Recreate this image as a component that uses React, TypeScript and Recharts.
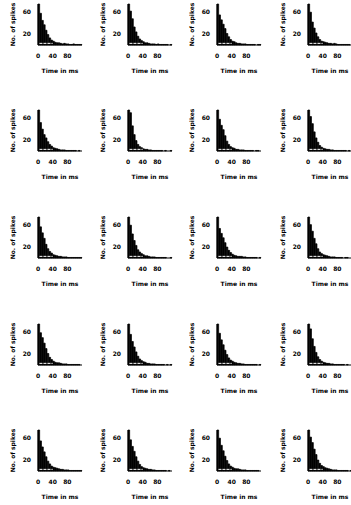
import { BarChart, Bar, XAxis, YAxis, ReferenceLine } from 'recharts'

// bin centres (ms), 5 ms bins
const BINS = [2.5, 7.5, 12.5, 17.5, 22.5, 27.5, 32.5, 37.5, 42.5, 47.5, 52.5, 57.5,
  62.5, 67.5, 72.5, 77.5, 82.5, 87.5, 92.5, 97.5, 102.5, 107.5, 112.5, 117.5]

const X_TICKS = [0, 40, 80]
const Y_TICKS = [0, 20, 60]
const X_LABEL = 'Time in ms'
const Y_LABEL = 'No. of spikes'

// counts per panel, row by row
const P1 = [75, 58, 45, 37, 27, 19, 13, 9, 7, 5, 4, 4, 3, 2, 3, 2, 2, 1, 1, 2, 1, 1, 1, 1]
const P2 = [75, 62, 48, 33, 24, 16, 11, 8, 6, 4, 4, 3, 2, 2, 2, 1, 2, 1, 1, 1, 1, 1, 0, 1]
const P3 = [75, 55, 46, 38, 30, 21, 15, 10, 7, 6, 4, 3, 3, 2, 2, 2, 1, 1, 1, 1, 1, 0, 1, 1]
const P4 = [75, 60, 42, 31, 22, 15, 10, 7, 6, 5, 4, 3, 3, 2, 3, 2, 1, 1, 1, 1, 1, 1, 1, 0]
const P5 = [75, 52, 40, 30, 24, 17, 12, 9, 6, 5, 4, 3, 2, 2, 2, 1, 1, 1, 1, 1, 1, 0, 1, 0]
const P6 = [75, 70, 46, 30, 19, 12, 8, 6, 4, 3, 3, 2, 2, 1, 1, 1, 1, 1, 1, 0, 1, 0, 0, 1]
const P7 = [75, 58, 47, 39, 28, 18, 12, 8, 6, 5, 3, 3, 2, 2, 2, 1, 1, 1, 1, 1, 0, 1, 1, 0]
const P8 = [75, 63, 50, 35, 24, 16, 10, 7, 5, 4, 3, 3, 2, 2, 1, 1, 1, 1, 1, 1, 1, 0, 1, 0]
const P9 = [75, 57, 46, 36, 25, 17, 12, 9, 6, 5, 4, 3, 3, 2, 2, 2, 1, 1, 1, 1, 1, 1, 1, 1]
const P10 = [75, 60, 44, 32, 23, 15, 11, 8, 6, 4, 4, 3, 2, 2, 2, 1, 1, 1, 1, 1, 1, 0, 0, 1]
const P11 = [75, 54, 45, 37, 28, 20, 14, 10, 7, 5, 4, 3, 3, 3, 2, 2, 1, 1, 1, 1, 1, 1, 0, 1]
const P12 = [75, 61, 49, 36, 26, 17, 11, 8, 6, 5, 4, 3, 2, 2, 2, 1, 1, 1, 1, 0, 1, 1, 0, 0]
const P13 = [75, 59, 50, 40, 30, 21, 14, 10, 7, 5, 4, 4, 3, 2, 2, 2, 1, 1, 1, 1, 1, 1, 1, 0]
const P14 = [75, 56, 43, 33, 24, 16, 11, 8, 6, 5, 3, 3, 2, 2, 2, 1, 1, 1, 1, 1, 0, 1, 0, 1]
const P15 = [75, 58, 46, 37, 27, 19, 13, 9, 7, 5, 4, 3, 3, 2, 2, 1, 1, 1, 1, 1, 1, 1, 0, 1]
const P16 = [75, 66, 48, 34, 23, 15, 10, 7, 5, 4, 3, 3, 2, 2, 1, 1, 1, 1, 1, 1, 0, 1, 0, 0]
const P17 = [75, 55, 44, 35, 26, 18, 13, 9, 7, 6, 5, 4, 3, 3, 2, 2, 2, 1, 1, 1, 1, 1, 1, 1]
const P18 = [75, 57, 45, 36, 26, 18, 12, 8, 6, 5, 4, 3, 3, 2, 2, 1, 1, 1, 1, 1, 1, 0, 1, 0]
const P19 = [75, 60, 47, 37, 27, 19, 13, 9, 7, 5, 4, 4, 3, 2, 2, 2, 1, 1, 1, 1, 1, 1, 1, 0]
const P20 = [75, 62, 52, 40, 30, 20, 14, 10, 8, 6, 5, 4, 3, 2, 2, 2, 1, 1, 1, 1, 1, 1, 0, 1]

const PANELS = [P1, P2, P3, P4, P5, P6, P7, P8, P9, P10, P11, P12, P13, P14, P15, P16, P17, P18, P19, P20]

const COL_LEFT = [0, 90, 179, 270]
const ROW_TOP = [0, 106, 213, 320, 426]

const font = { fontFamily: 'DejaVu Sans', fontSize: 6, fontWeight: 'bold' as const, fill: '#000' }

function YLabel({ viewBox }: any) {
  const x = viewBox.x + 12
  const y = viewBox.y + viewBox.height / 2
  return (
    <text x={x} y={y} transform={`rotate(-90, ${x}, ${y})`} textAnchor="middle"
      dominantBaseline="central" {...font}>
      {Y_LABEL}
    </text>
  )
}

function Panel({ counts }: { counts: number[] }) {
  const data = BINS.map((t, i) => ({ t, n: counts[i] }))
  return (
    <BarChart width={84} height={75} data={data} margin={{ top: 4, right: 2, bottom: 0, left: 0 }}>
      <XAxis
        dataKey="t"
        type="number"
        domain={[0, 120]}
        ticks={X_TICKS}
        tick={font}
        tickLine={false}
        tickSize={0}
        tickMargin={9}
        axisLine={{ stroke: '#000' }}
        height={30}
        label={{ value: X_LABEL, position: 'insideBottom', offset: 2, ...font }}
      />
      <YAxis
        type="number"
        domain={[0, 75]}
        ticks={Y_TICKS}
        tick={font}
        tickLine={false}
        tickSize={0}
        tickMargin={7}
        axisLine={{ stroke: '#000' }}
        width={38}
        label={<YLabel />}
      />
      <Bar dataKey="n" fill="#000" stroke="#000" strokeWidth={0.7} barSize={2} isAnimationActive={false} />
      <ReferenceLine
        segment={[{ x: 4, y: 3 }, { x: 40, y: 3 }]}
        stroke="#fff"
        strokeDasharray="3 1"
        strokeWidth={1}
      />
    </BarChart>
  )
}

export default function App() {
  return (
    <div style={{ position: 'absolute', left: 0, top: 0, width: 351, height: 505, background: '#fff', overflow: 'hidden' }}>
      {PANELS.map((counts, i) => (
        <div key={i} style={{ position: 'absolute', left: COL_LEFT[i % 4], top: ROW_TOP[Math.floor(i / 4)] }}>
          <Panel counts={counts} />
        </div>
      ))}
    </div>
  )
}
